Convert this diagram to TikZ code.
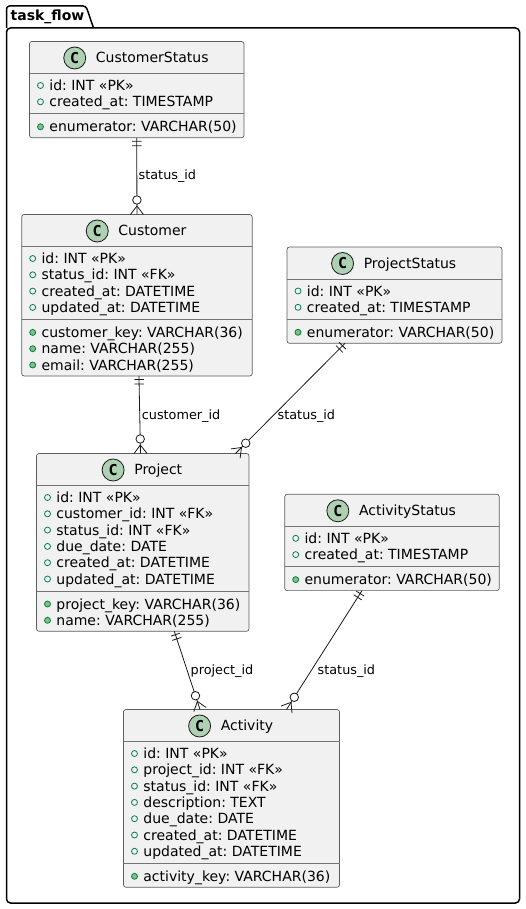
\documentclass[tikz,border=0pt]{standalone}
\usepackage{fontspec}
\setmainfont{DejaVu Sans}
\newfontfamily\iconfont{DejaVu Sans Mono}
\usetikzlibrary{calc}
\definecolor{boxfill}{HTML}{F1F1F1}
\definecolor{boxline}{HTML}{181818}
\definecolor{iconfill}{HTML}{ADD1B2}
\definecolor{vis}{HTML}{038048}
\definecolor{visfill}{HTML}{84BE84}
\tikzset{
  x=1pt,y=-1pt,
  pkg/.style={draw=black,line width=1.5pt,line join=round},
  classbox/.style={draw=boxline!70,line width=.7pt,fill=boxfill,rounded corners=2.5pt,inner sep=0pt,outer sep=0pt,anchor=north west},
  sepline/.style={draw=boxline!60,line width=.7pt},
  titletext/.style={font=\fontsize{14}{16}\selectfont,inner sep=0pt,text height=11pt,text depth=3pt,text=black},
  fieldtext/.style={font=\fontsize{14}{16}\selectfont,inner sep=0pt,anchor=west,text height=11pt,text depth=3pt,text=black},
  reltext/.style={font=\fontsize{12.8}{15}\selectfont,inner sep=0pt,anchor=west,text height=10pt,text depth=3pt,text=black},
  icon/.style={circle,draw=boxline,line width=.8pt,fill=iconfill,minimum size=22pt,inner sep=0pt,font=\iconfont\bfseries\fontsize{15}{15}\selectfont},
  pubopen/.style={circle,draw=vis,line width=.8pt,minimum size=6pt,inner sep=0pt},
  pubfull/.style={circle,draw=vis,fill=visfill,line width=.8pt,minimum size=6pt,inner sep=0pt},
  relline/.style={draw=boxline,line width=.8pt},
  relring/.style={circle,draw=boxline,fill=white,line width=.8pt,minimum size=8.5pt,inner sep=0pt},
}
\newcount\cntf
\newcount\cntm
% \umlclass{id}{x}{y}{w}{title}{fields}{methods}
\newcommand{\umlclass}[7]{%
  \def\rowh{16.3}%
  \global\cntf=0 \foreach \f in {#6}{\global\advance\cntf by 1 }%
  \global\cntm=0 \foreach \f in {#7}{\global\advance\cntm by 1 }%
  \pgfmathsetmacro{\sectwosep}{32+12+(\the\cntf-1)*\rowh+12}%
  \pgfmathsetmacro{\boxh}{\sectwosep+13+(\the\cntm-1)*\rowh+11}%
  \node[classbox,minimum width=#4pt,minimum height=\boxh pt] (#1) at (#2,#3) {};
  \node[titletext] (#1-title) at ($(#1.north)+(15.5,17)$) {#5};
  \node[icon] (#1-icon) at ($(#1-title.west)+(-21,-0.5)$) {C};
  \draw[sepline] ($(#1.north west)+(0,32)$) -- ($(#1.north east)+(0,32)$);
  \draw[sepline] ($(#1.north west)+(0,\sectwosep)$) -- ($(#1.north east)+(0,\sectwosep)$);
  \foreach \f [count=\i] in {#6}{%
    \pgfmathsetmacro{\yy}{32+12+(\i-1)*\rowh}%
    \node[pubopen] (#1-fm\i) at ($(#1.north west)+(11,\yy)$) {};
    \node[fieldtext] (#1-f\i) at ($(#1.north west)+(19.7,\yy+1)$) {\f};
  }%
  \foreach \f [count=\i] in {#7}{%
    \pgfmathsetmacro{\yy}{\sectwosep+13+(\i-1)*\rowh}%
    \node[pubfull] (#1-mm\i) at ($(#1.north west)+(11,\yy)$) {};
    \node[fieldtext] (#1-m\i) at ($(#1.north west)+(19.7,\yy+1)$) {\f};
  }%
}
\begin{document}
\frenchspacing
\begin{tikzpicture}
\useasboundingbox (0,0) rectangle (525,909);
% package frame
\draw[pkg,rounded corners=3pt] (6.5,28) -- (6.5,6) -- (86,6) -- (93.5,28);
\draw[pkg,rounded corners=4pt] (6.5,28) -- (6.5,903) -- (519.5,903) -- (519.5,28) -- cycle;
\node[font=\bfseries\fontsize{14}{16}\selectfont,inner sep=0pt,anchor=west,text height=11pt,text depth=3pt] (pkgname) at (10.5,17) {task\_flow};

\umlclass{customerstatus}{29.5}{41.5}{214.5}{CustomerStatus}{id: INT «PK»,created\_at: TIMESTAMP}{enumerator: VARCHAR(50)}
\umlclass{customer}{21.7}{214.5}{230.5}{Customer}{id: INT «PK»,status\_id: INT «FK»,created\_at: DATETIME,updated\_at: DATETIME}{customer\_key: VARCHAR(36),name: VARCHAR(255),email: VARCHAR(255)}
\umlclass{projectstatus}{287}{247}{215}{ProjectStatus}{id: INT «PK»,created\_at: TIMESTAMP}{enumerator: VARCHAR(50)}
\umlclass{project}{36.5}{453.5}{212.5}{Project}{id: INT «PK»,customer\_id: INT «FK»,status\_id: INT «FK»,due\_date: DATE,created\_at: DATETIME,updated\_at: DATETIME}{project\_key: VARCHAR(36),name: VARCHAR(255)}
\umlclass{activitystatus}{284.7}{494.3}{214.6}{ActivityStatus}{id: INT «PK»,created\_at: TIMESTAMP}{enumerator: VARCHAR(50)}
\umlclass{activity}{123.5}{709.5}{216}{Activity}{id: INT «PK»,project\_id: INT «FK»,status\_id: INT «FK»,description: TEXT,due\_date: DATE,created\_at: DATETIME,updated\_at: DATETIME}{activity\_key: VARCHAR(36)}

% connector ends
\coordinate (a1) at (customerstatus.south);
\coordinate (b1) at (customer.north);
\coordinate (a2) at ($(customer.south)+(2,0)$);
\coordinate (b2) at ($(project.north)+(-2.25,0)$);
\coordinate (a3) at ($(projectstatus.south west)+(58,0)$);
\coordinate (b3) at ($(project.north west)+(199,0)$);
\coordinate (a4) at ($(project.south west)+(137.8,0)$);
\coordinate (b4) at ($(activity.north west)+(76.5,0)$);
\coordinate (a5) at ($(activitystatus.south west)+(77.3,0)$);
\coordinate (b5) at ($(activity.north west)+(163,0)$);
\foreach \p/\q [count=\n] in {a1/b1,a2/b2,a3/b3,a4/b4,a5/b5}{
  \draw[relline] (\p) -- (\q);
  % one-side bars
  \coordinate (m1) at ($(\p)!3.5pt!(\q)$);
  \coordinate (m2) at ($(\p)!8pt!(\q)$);
  \draw[relline] ($(m1)!4.75pt!90:(\q)$) -- ($(m1)!4.75pt!-90:(\q)$);
  \draw[relline] ($(m2)!4.75pt!90:(\q)$) -- ($(m2)!4.75pt!-90:(\q)$);
  % crow's foot and ring
  \coordinate (apex) at ($(\q)!8.5pt!(\p)$);
  \draw[relline] ($(\q)!6.5pt!90:(\p)$) -- (apex) -- ($(\q)!6.5pt!-90:(\p)$);
  \node[relring] (ring\n) at ($(\q)!14.5pt!(\p)$) {};
}
\node[reltext] (l1) at (138.5,176.5) {status\_id};
\node[reltext] (l2) at (141.7,415.7) {customer\_id};
\node[reltext] (l3) at (277.5,415.7) {status\_id};
\node[reltext] (l4) at (190.5,670.5) {project\_id};
\node[reltext] (l5) at (317.5,670.5) {status\_id};
\end{tikzpicture}
\end{document}
